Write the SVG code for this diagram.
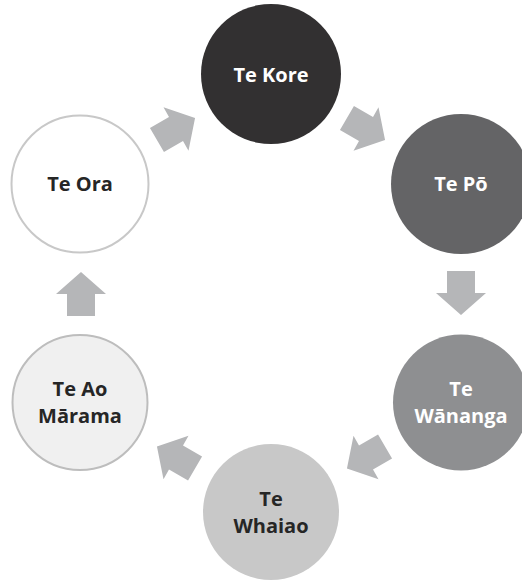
<svg xmlns="http://www.w3.org/2000/svg" width="522" height="581" viewBox="0 0 522 581">
  <defs>
    <path id="arr" d="M-22,-14 H0 V-25 L22,0 L0,25 V14 H-22 Z"/>
  </defs>
  <style>
    .lbl { font-family: "Open Sans", "Liberation Sans", sans-serif; font-weight: bold; font-size: 20px; text-anchor: middle; }
    .light { fill: #ffffff; }
    .dark { fill: #262626; }
    .arrow { fill: #b5b6b8; }
  </style>
  <rect width="522" height="581" fill="#ffffff"/>
  <g id="connectors">
    <use href="#arr" class="arrow" transform="translate(176,129) rotate(-30)"/>
    <use href="#arr" class="arrow" transform="translate(366,129) rotate(30)"/>
    <use href="#arr" class="arrow" transform="translate(461,293) rotate(90)"/>
    <use href="#arr" class="arrow" transform="translate(366,457.5) rotate(150)"/>
    <use href="#arr" class="arrow" transform="translate(176,457.5) rotate(210)"/>
    <use href="#arr" class="arrow" transform="translate(81,294) rotate(-90)"/>
  </g>
  <g id="te-kore">
    <circle cx="271" cy="74" r="70" fill="#323031"/>
    <text class="lbl light" x="271" y="82">Te Kore</text>
  </g>
  <g id="te-po">
    <circle cx="461" cy="184" r="70" fill="#646466"/>
    <text class="lbl light" x="461" y="191">Te Pō</text>
  </g>
  <g id="te-wananga">
    <circle cx="461" cy="402.5" r="68" fill="#8e8f91"/>
    <text class="lbl light" x="461" y="396">Te</text>
    <text class="lbl light" x="461" y="423">Wānanga</text>
  </g>
  <g id="te-whaiao">
    <circle cx="271" cy="512" r="68" fill="#c8c8c8"/>
    <text class="lbl dark" x="271" y="505.5">Te</text>
    <text class="lbl dark" x="271" y="532.5">Whaiao</text>
  </g>
  <g id="te-ao-marama">
    <circle cx="80" cy="402.5" r="67.5" fill="#f0f0f0" stroke="#bdbdbd" stroke-width="2"/>
    <text class="lbl dark" x="80" y="396">Te Ao</text>
    <text class="lbl dark" x="80" y="423">Mārama</text>
  </g>
  <g id="te-ora">
    <circle cx="80" cy="184" r="68.5" fill="#ffffff" stroke="#c8c8c8" stroke-width="2"/>
    <text class="lbl dark" x="80" y="190.5">Te Ora</text>
  </g>
</svg>
